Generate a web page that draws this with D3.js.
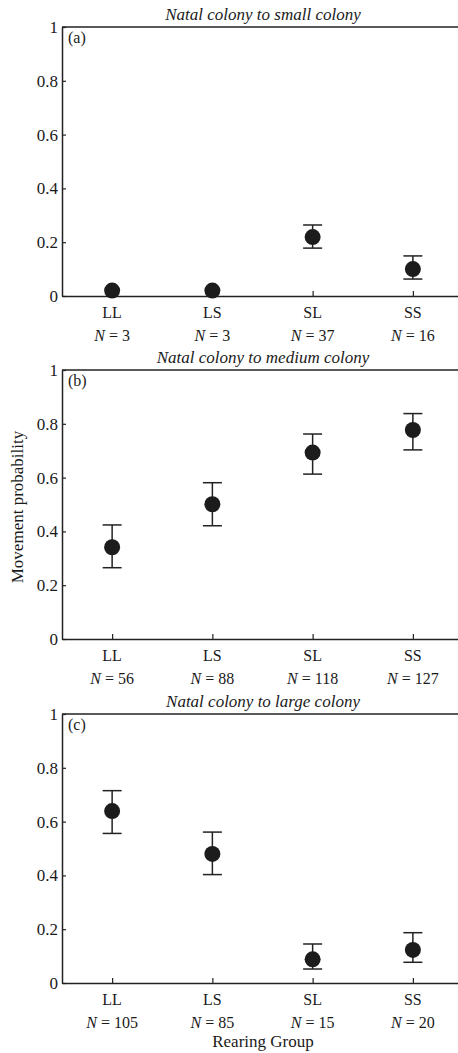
<!DOCTYPE html>
<html>
<head>
<meta charset="utf-8">
<script src="https://cdn.jsdelivr.net/npm/d3@7"></script>
<style>
  body { margin: 0; background: #fff; }
  svg { display: block; }
  text { font-family: "Liberation Serif", "DejaVu Serif", serif; fill: #1a1a1a; }
</style>
</head>
<body>
<div class="chart"></div>
<script>
// groupes d'élevage
var groups = ["LL", "LS", "SL", "SS"];
var yTicks = [0, 0.2, 0.4, 0.6, 0.8, 1];

// (a) natal -> petite colonie
var titleA = "Natal colony to small colony";
var meanA = [0.02, 0.02, 0.219, 0.100];
var lowA  = [null, null, 0.178, 0.063];
var highA = [null, null, 0.264, 0.149];
var nA    = [3, 3, 37, 16];

// (b) natal -> colonie moyenne
var titleB = "Natal colony to medium colony";
var meanB = [0.341, 0.501, 0.693, 0.777];
var lowB  = [0.265, 0.421, 0.613, 0.703];
var highB = [0.424, 0.581, 0.762, 0.838];
var nB    = [56, 88, 118, 127];

// (c) natal -> grande colonie
var titleC = "Natal colony to large colony";
var meanC = [0.639, 0.480, 0.088, 0.123];
var lowC  = [0.556, 0.403, 0.052, 0.077];
var highC = [0.715, 0.561, 0.145, 0.187];
var nC    = [105, 85, 15, 20];

var width = 458, height = 1053;
var left = 62, right = 463, plotH = 269;

var svg = d3.select(".chart").append("svg")
  .attr("width", width)
  .attr("height", height);

var x = d3.scalePoint().domain(groups).range([left, right]).padding(0.5);

function drawPanel(top, title, letter, mean, low, high, n) {
  var y = d3.scaleLinear().domain([0, 1]).range([top + plotH, top]);
  var g = svg.append("g");

  // titre en italique
  g.append("text")
    .attr("x", 263).attr("y", top - 7)
    .attr("text-anchor", "middle")
    .style("font-style", "italic")
    .style("font-size", "17px")
    .text(title);

  // cadre du haut
  g.append("line")
    .attr("x1", left).attr("x2", right)
    .attr("y1", y(1)).attr("y2", y(1))
    .attr("stroke", "#222").attr("stroke-width", 1.5);

  var yAxis = g.append("g")
    .attr("transform", "translate(" + left + ",0)")
    .call(d3.axisLeft(y).tickValues(yTicks).tickSizeInner(-4).tickSizeOuter(0).tickPadding(4)
      .tickFormat(function (d) { return (d === 0 || d === 1) ? String(d) : d3.format(".1f")(d); }));
  yAxis.select(".domain").attr("stroke", "#222").attr("stroke-width", 1.5);
  yAxis.selectAll(".tick line").attr("stroke", "#222").attr("stroke-width", 1.2);
  yAxis.selectAll(".tick text").style("font-size", "17px").style("font-family", null).attr("fill", "#1a1a1a");

  var xAxis = g.append("g")
    .attr("transform", "translate(0," + (top + plotH) + ")")
    .call(d3.axisBottom(x).tickSizeInner(-5).tickSizeOuter(0).tickFormat(""));
  xAxis.select(".domain").attr("stroke", "#222").attr("stroke-width", 1.5);
  xAxis.selectAll(".tick line").attr("stroke", "#222").attr("stroke-width", 1.2);

  // étiquettes des groupes et effectifs
  g.selectAll(".grp").data(groups).enter().append("text")
    .attr("x", function (d) { return x(d); })
    .attr("y", top + plotH + 22)
    .attr("text-anchor", "middle")
    .style("font-size", "16px")
    .text(function (d) { return d; });

  var nt = g.selectAll(".nlab").data(groups).enter().append("text")
    .attr("x", function (d) { return x(d); })
    .attr("y", top + plotH + 45)
    .attr("text-anchor", "middle")
    .style("font-size", "16px");
  nt.append("tspan").style("font-style", "italic").text("N");
  nt.append("tspan").text(function (d, i) { return " = " + n[i]; });

  g.append("text")
    .attr("x", left + 6).attr("y", top + 16)
    .style("font-size", "16px")
    .text("(" + letter + ")");

  // barres d'erreur
  var eb = groups.map(function (d, i) { return { g: d, lo: low[i], hi: high[i] }; })
    .filter(function (d) { return d.lo !== null; });
  var cap = 9.5;
  var ebg = g.selectAll(".eb").data(eb).enter().append("g").attr("stroke", "#222").attr("stroke-width", 1.5);
  ebg.append("line")
    .attr("x1", function (d) { return x(d.g); }).attr("x2", function (d) { return x(d.g); })
    .attr("y1", function (d) { return y(d.lo); }).attr("y2", function (d) { return y(d.hi); });
  ebg.append("line")
    .attr("x1", function (d) { return x(d.g) - cap; }).attr("x2", function (d) { return x(d.g) + cap; })
    .attr("y1", function (d) { return y(d.lo); }).attr("y2", function (d) { return y(d.lo); });
  ebg.append("line")
    .attr("x1", function (d) { return x(d.g) - cap; }).attr("x2", function (d) { return x(d.g) + cap; })
    .attr("y1", function (d) { return y(d.hi); }).attr("y2", function (d) { return y(d.hi); });

  g.selectAll(".pt").data(groups).enter().append("circle")
    .attr("cx", function (d) { return x(d); })
    .attr("cy", function (d, i) { return y(mean[i]); })
    .attr("r", 8)
    .attr("fill", "#1c1c1c");
}

drawPanel(27, titleA, "a", meanA, lowA, highA, nA);
drawPanel(370, titleB, "b", meanB, lowB, highB, nB);
drawPanel(714, titleC, "c", meanC, lowC, highC, nC);

// titres des axes
svg.append("text")
  .attr("transform", "translate(23,507) rotate(-90)")
  .attr("text-anchor", "middle")
  .style("font-size", "17px")
  .text("Movement probability");

svg.append("text")
  .attr("x", 263).attr("y", 1047)
  .attr("text-anchor", "middle")
  .style("font-size", "17px")
  .text("Rearing Group");
</script>
</body>
</html>
